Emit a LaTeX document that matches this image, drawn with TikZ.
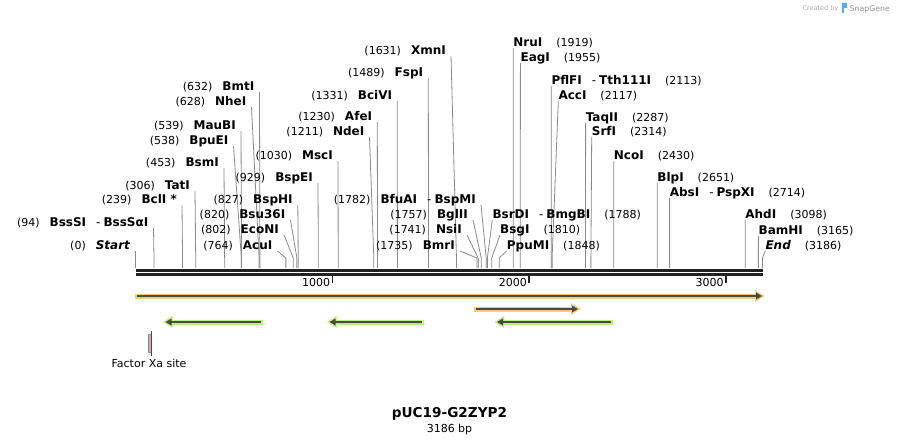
\documentclass[tikz,border=0pt]{standalone}
\usepackage{fontspec}
\setmainfont{DejaVu Sans}
\usetikzlibrary{calc}
\definecolor{bbcol}{HTML}{222222}
\definecolor{cutcol}{HTML}{8A8A8A}
\definecolor{fwdglow}{HTML}{FBCB7C}
\definecolor{revglow}{HTML}{B9F07F}
\definecolor{featline}{HTML}{4B4A3B}
\definecolor{xapink}{HTML}{D9A3BC}
\definecolor{sgblue}{HTML}{5AA9E6}
\newcommand{\nb}[1]{{\fontsize{11}{13}\selectfont #1}}
\newcommand{\en}[1]{{\fontsize{12}{14}\selectfont\bfseries #1}}
\newcommand{\dsh}{\hspace{10pt}{\mdseries -}\hspace{3pt}}
% site label left of its line: name, bp, label end x, label y, enzyme
\newcommand{\cutleft}[5]{%
  \node[cutlbl, anchor=base east] (#1) at (#3,#4+4.5) {\nb{(#2)}\hspace{10pt}\en{#5}};
  \draw[cutline] ($(#1.base east)+(5,1.5)$) -- ({135.5+#2*0.1968},258) -- ++(0,10);}
% site label right of its line: name, bp, label start x, label y, enzyme
\newcommand{\cutright}[5]{%
  \node[cutlbl, anchor=base west] (#1) at (#3,#4+4.5) {\en{#5}\hspace{14pt}\nb{(#2)}};
  \draw[cutline] ($(#1.base west)+(0,1.5)$) -- ({135.5+#2*0.1968},258) -- ++(0,10);}
% feature arrows: x from, x to, y
\def\fwdfeat#1#2#3#4{%
  \draw[line width=5, #4] (#1,#3) -- (#2-5,#3);
  \fill[#4] (#2-8,#3-6) -- (#2+1.5,#3) -- (#2-8,#3+6) -- cycle;
  \draw[line width=2, featline] (#1+2,#3) -- (#2-5,#3);
  \fill[featline] (#2-7,#3-3.5) -- (#2-1,#3) -- (#2-7,#3+3.5) -- cycle;}
\def\revfeat#1#2#3#4{%
  \draw[line width=5, #4] (#1+5,#3) -- (#2,#3);
  \fill[#4] (#1+8,#3-6) -- (#1-1.5,#3) -- (#1+8,#3+6) -- cycle;
  \draw[line width=2, featline] (#1+5,#3) -- (#2-2,#3);
  \fill[featline] (#1+7,#3-3.5) -- (#1+1,#3) -- (#1+7,#3+3.5) -- cycle;}

\begin{document}
\begin{tikzpicture}[x=1pt, y=-1pt,
    cutlbl/.style={inner sep=0pt},
    cutline/.style={cutcol, line width=0.8pt}]
			%%%%% START %%%%%
			\useasboundingbox[fill=white] (0,0) rectangle (899,445);
			
			\node[anchor=base east, inner sep=0, text=black!32] (made) at (838.5,10) {\fontsize{6.5}{8}\selectfont Created by};
			\fill[sgblue] (841.5,2.5) rectangle (846.5,7.5);
			\fill[sgblue] (841.5,7.5) rectangle (843.5,12.5);
			\node[anchor=base west, inner sep=0, text=black!42] (sgname) at (849.5,11) {\fontsize{7.8}{9}\selectfont SnapGene};
			
			% backbone
			\draw[line width=2.4pt, bbcol] (135.5,270.5) -- (763,270.5);
			\draw[line width=2.4pt, bbcol] (135.5,274.3) -- (763,274.3);
			\foreach \k in {1,2,3} {
				\draw[line width=1.6pt, bbcol] ({135.5+\k*196.8},274) -- ++(0,9);
				\node[anchor=base east, inner sep=0] (tick\k) at ({133.5+\k*196.8},286) {\nb{\k000}};
			}
			
			% left side labels
			\cutleft{start}{0}{130.5}{245}{\textit{Start}}
			\cutleft{bsssi}{94}{148.5}{222}{BssSI\dsh BssSαI}
			\cutleft{bcli}{239}{177}{199}{BclI *}
			\cutleft{tati}{306}{190}{185}{TatI}
			\cutleft{bsmi}{453}{219}{162}{BsmI}
			\cutleft{bpuei}{538}{228.5}{140}{BpuEI}
			\cutleft{maubi}{539}{236}{125}{MauBI}
			\cutleft{nhei}{628}{246.5}{101}{NheI}
			\cutleft{bmti}{632}{254.5}{86}{BmtI}
			\cutleft{acui}{764}{272.5}{245}{AcuI}
			\cutleft{econi}{802}{279}{229}{EcoNI}
			\cutleft{bsu}{820}{285.5}{214}{Bsu36I}
			\cutleft{bsphi}{827}{292.8}{199}{BspHI}
			\cutleft{bspei}{929}{313}{177}{BspEI}
			\cutleft{msci}{1030}{333}{155}{MscI}
			\cutleft{ndei}{1211}{364.5}{131}{NdeI}
			\cutleft{afei}{1230}{372.3}{116}{AfeI}
			\cutleft{bcivi}{1331}{392.2}{95}{BciVI}
			\cutleft{fspi}{1489}{423.3}{72}{FspI}
			\cutleft{xmni}{1631}{446}{50}{XmnI}
			\cutleft{bfuai}{1782}{476}{199}{BfuAI\dsh BspMI}
			\cutleft{bglii}{1757}{468}{214}{BglII}
			\cutleft{nsii}{1741}{462}{229}{NsiI}
			\cutleft{bmri}{1735}{455}{245}{BmrI}
			
			% right side labels
			\cutright{nrui}{1919}{513.2}{42}{NruI}
			\cutright{eagi}{1955}{520.4}{57}{EagI}
			\cutright{pflfi}{2113}{551.3}{80}{PflFI\dsh Tth111I}
			\cutright{acci}{2117}{558.3}{95}{AccI}
			\cutright{taqii}{2287}{585.6}{117}{TaqII}
			\cutright{srfi}{2314}{591.7}{131}{SrfI}
			\cutright{ncoi}{2430}{613.7}{155}{NcoI}
			\cutright{blpi}{2651}{657.2}{177}{BlpI}
			\cutright{absi}{2714}{669.6}{192}{AbsI\dsh PspXI}
			\cutright{ahdi}{3098}{745.2}{214}{AhdI}
			\cutright{bamhi}{3165}{758.4}{230}{BamHI}
			\cutright{end}{3186}{765.3}{245}{\textit{End}}
			\cutright{bsrdi}{1788}{492.3}{214}{BsrDI\dsh BmgBI}
			\cutright{bsgi}{1810}{500}{229}{BsgI}
			\cutright{ppumi}{1848}{506.7}{245}{PpuMI}
			
			% features
			\fwdfeat{135}{763}{296}{fwdglow}
			\fwdfeat{473.5}{579}{309}{fwdglow}
			\revfeat{164.5}{262.5}{322}{revglow}
			\revfeat{328.5}{424}{322}{revglow}
			\revfeat{496}{612.5}{322}{revglow}
			
			\draw[fill=xapink, draw=black!45, line width=0.5pt] (148.6,334.5) rectangle (151,352);
			\draw[featline, line width=0.8pt] (151.2,331) -- (151.2,355.5);
			\node[inner sep=0] (xa) at (149,363) {\nb{Factor Xa site}};
			
			\node[inner sep=0] (title) at (449.5,414) {\fontsize{13.6}{16}\selectfont\bfseries pUC19-G2ZYP2};
			\node[inner sep=0] (size) at (449.5,429) {\nb{3186 bp}};
			%%%%% END %%%%%
\end{tikzpicture}
\end{document}
